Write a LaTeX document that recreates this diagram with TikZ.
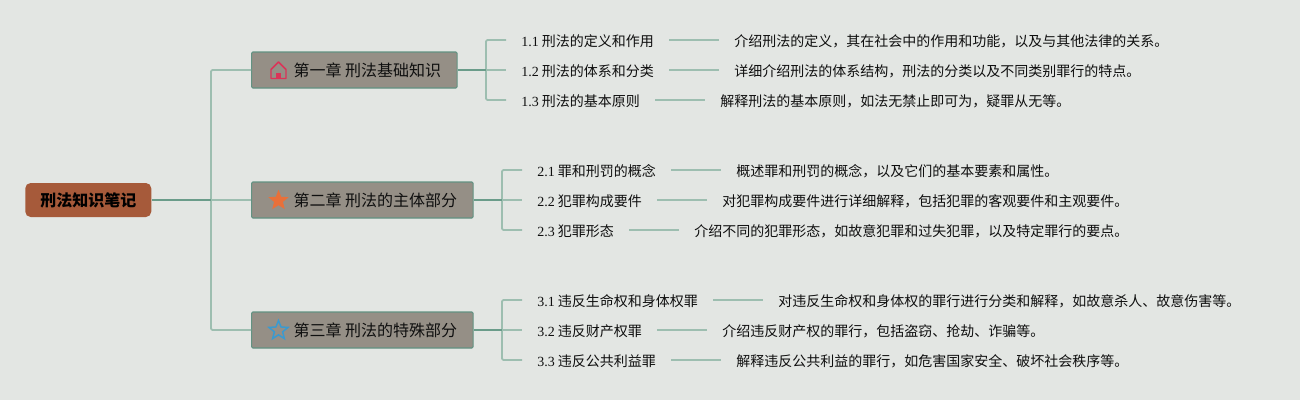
\documentclass[tikz,border=0pt]{standalone}
\usepackage{fontspec}
\setmainfont{Noto Sans CJK SC}
\newfontfamily\numfont{Liberation Serif}
\usetikzlibrary{shapes.geometric, positioning}
\definecolor{mybg}{RGB}{227,230,227}
\definecolor{myroot}{RGB}{166,90,58}
\definecolor{mychap}{RGB}{149,143,134}
\definecolor{myedge}{RGB}{98,146,130}
\definecolor{mytrunk}{RGB}{106,156,138}
\definecolor{mytwig}{RGB}{157,190,176}
\definecolor{myink}{RGB}{15,15,15}
\definecolor{myhouse}{RGB}{218,52,88}
\definecolor{myorange}{RGB}{232,112,58}
\definecolor{myblue}{RGB}{58,154,208}
\tikzset{
  rootbox/.style={rectangle, fill=myroot, rounded corners=4pt,
    minimum height=25.5pt, inner xsep=11.25pt, inner ysep=0pt,
    font=\fontsize{12pt}{14pt}\bfseries, text=black},
  chapbox/.style={rectangle, fill=mychap, draw=myedge, line width=0.8pt, rounded corners=1pt,
    minimum height=27pt, inner xsep=12pt, inner ysep=0pt, text height=11pt, text depth=1pt,
    font=\fontsize{12pt}{14pt}\selectfont, text=myink},
  subbox/.style={rectangle, inner xsep=11.25pt, inner ysep=0pt, text height=10pt, text depth=1pt,
    font=\fontsize{10.5pt}{13pt}\selectfont, text=myink},
  trunk/.style={color=mytrunk, line width=1.5pt},
  twig/.style={color=mytwig, line width=1.3pt, rounded corners=1pt},
  starmark/.style={star, star points=5, star point ratio=2.3, inner sep=0pt, minimum size=16pt}
}
\newcommand{\chaptext}[1]{\hspace*{19.5pt}#1}
\newcommand{\num}[1]{{\numfont #1} }
\begin{document}
\begin{tikzpicture}[x=0.75pt, y=-0.75pt]
  % page
  \fill[mybg] (0,0) rectangle (1300,400);
  \useasboundingbox (0,0) rectangle (1300,400);

  % root and chapters
  \node[rootbox, anchor=west] (root) at (25,200) {刑法知识笔记};
  \node[chapbox, anchor=west] (chap1) at (251,70) {\chaptext{第一章 刑法基础知识}};
  \node[chapbox, anchor=west] (chap2) at (251,200) {\chaptext{第二章 刑法的主体部分}};
  \node[chapbox, anchor=west] (chap3) at (251,330) {\chaptext{第三章 刑法的特殊部分}};

  % chapter icons
  \fill[myhouse] (276,79) rectangle (281,73);
  \draw[myhouse, line width=1.1pt, line join=round]
    (271,78.5) -- (286,78.5) -- (286,69.5) -- (278.5,62) -- (271,69.5) -- cycle;
  \node[starmark, fill=myorange] (mark2) at (278.5,200.5) {};
  \node[starmark, draw=myblue, line width=1.1pt, minimum size=15pt] (mark3) at (278.5,330.5) {};

  % chapter 1
  \node[subbox, anchor=west] (s11) at (506,40) {\num{1.1}刑法的定义和作用};
  \node[subbox, anchor=west] (s12) at (506,70) {\num{1.2}刑法的体系和分类};
  \node[subbox, anchor=west] (s13) at (506,100) {\num{1.3}刑法的基本原则};
  \node[subbox, right=37.5pt of s11] (d11) {介绍刑法的定义，其在社会中的作用和功能，以及与其他法律的关系。};
  \node[subbox, right=37.5pt of s12] (d12) {详细介绍刑法的体系结构，刑法的分类以及不同类别罪行的特点。};
  \node[subbox, right=37.5pt of s13] (d13) {解释刑法的基本原则，如法无禁止即可为，疑罪从无等。};

  % chapter 2
  \node[subbox, anchor=west] (s21) at (522,170) {\num{2.1}罪和刑罚的概念};
  \node[subbox, anchor=west] (s22) at (522,200) {\num{2.2}犯罪构成要件};
  \node[subbox, anchor=west] (s23) at (522,230) {\num{2.3}犯罪形态};
  \node[subbox, right=37.5pt of s21] (d21) {概述罪和刑罚的概念，以及它们的基本要素和属性。};
  \node[subbox, right=37.5pt of s22] (d22) {对犯罪构成要件进行详细解释，包括犯罪的客观要件和主观要件。};
  \node[subbox, right=37.5pt of s23] (d23) {介绍不同的犯罪形态，如故意犯罪和过失犯罪，以及特定罪行的要点。};

  % chapter 3
  \node[subbox, anchor=west] (s31) at (522,300) {\num{3.1}违反生命权和身体权罪};
  \node[subbox, anchor=west] (s32) at (522,330) {\num{3.2}违反财产权罪};
  \node[subbox, anchor=west] (s33) at (522,360) {\num{3.3}违反公共利益罪};
  \node[subbox, right=37.5pt of s31] (d31) {对违反生命权和身体权的罪行进行分类和解释，如故意杀人、故意伤害等。};
  \node[subbox, right=37.5pt of s32] (d32) {介绍违反财产权的罪行，包括盗窃、抢劫、诈骗等。};
  \node[subbox, right=37.5pt of s33] (d33) {解释违反公共利益的罪行，如危害国家安全、破坏社会秩序等。};

  % junctions
  \coordinate (j0) at (211,200);
  \coordinate (j1) at (486,70);
  \coordinate (j2) at (502,200);
  \coordinate (j3) at (502,330);

  % root connectors
  \draw[twig] (j0) |- (chap1.west);
  \draw[twig] (j0) -- (chap2.west);
  \draw[twig] (j0) |- (chap3.west);
  \draw[trunk] (root.east) -- (j0);

  % chapter connectors
  \foreach \c/\j in {1/j1, 2/j2, 3/j3} {
    \draw[twig] (\j) |- (s\c1.west);
    \draw[twig] (\j) -- (s\c2.west);
    \draw[twig] (\j) |- (s\c3.west);
    \draw[trunk] (chap\c.east) -- (\j);
    \foreach \r in {1,2,3}
      \draw[twig] (s\c\r) -- (d\c\r);
  }
\end{tikzpicture}
\end{document}
